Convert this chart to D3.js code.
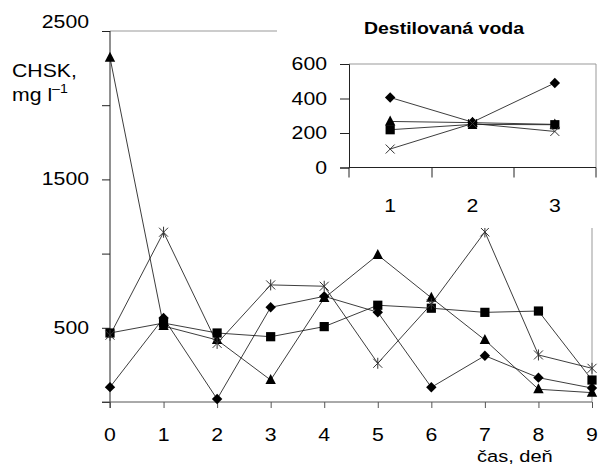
<!DOCTYPE html>
<html lang="sk">
<head>
<meta charset="utf-8">
<title>CHSK</title>
<style>
  body { margin: 0; background: #fff; }
  text { font-family: Arial, "Liberation Sans", sans-serif; fill: #000; }
  .ln { fill: none; stroke: #1a1a1a; stroke-width: 0.85; }
</style>
</head>
<body>
<div id="container"></div>
<script src="https://cdn.jsdelivr.net/npm/d3@7/dist/d3.min.js"></script>
<script>
// ------ data ------
var days = [0, 1, 2, 3, 4, 5, 6, 7, 8, 9];
var diamondVals  = [100, 566, 20, 638, 712, 605, 99, 312, 164, 94];
var squareVals   = [465, 532, 465, 440, 508, 652, 632, 604, 613, 148];
var triangleVals = [2320, 512, 418, 148, 700, 991, 702, 418, 86, 63];
var starVals     = [450, 1144, 395, 789, 780, 261, 660, 1146, 317, 227];
var yTicks = [0, 500, 1000, 1500, 2000, 2500];
var yLabels = ["", "500", "", "1500", "", "2500"];

var insetCats = ["1", "2", "3"];
var insetDiamond  = [406, 263, 490];
var insetTriangle = [267, 260, 250];
var insetSquare   = [219, 250, 248];
var insetCross    = [107, 255, 209];
var insetTicks = [0, 200, 400, 600];
// -----------------------------------------

var width = 600, height = 470;
var SX = 1.18; // the picture's text is stretched sideways

var svg = d3.select("#container").append("svg")
    .attr("width", width).attr("height", height);

function label(g, x, y, txt, anchor, size, bold) {
  return g.append("text")
    .attr("transform", "translate(" + x + "," + y + ") scale(" + SX + ",1)")
    .attr("text-anchor", anchor || "middle")
    .style("font-size", (size || 18) + "px")
    .style("font-weight", bold ? "bold" : "normal")
    .text(txt);
}

function marker(g, type, x, y) {
  var s = 5.2;
  if (type === "diamond") {
    g.append("path").attr("d", "M" + x + "," + (y - s) + "L" + (x + s) + "," + y + "L" + x + "," + (y + s) + "L" + (x - s) + "," + y + "Z")
      .attr("fill", "#000");
  } else if (type === "square") {
    g.append("rect").attr("x", x - 4.6).attr("y", y - 4.6).attr("width", 9.2).attr("height", 9.2).attr("fill", "#000");
  } else if (type === "triangle") {
    g.append("path").attr("d", "M" + x + "," + (y - 6) + "L" + (x + 5.2) + "," + (y + 4) + "L" + (x - 5.2) + "," + (y + 4) + "Z")
      .attr("fill", "#000");
  } else {
    var d = "M" + (x - 4.5) + "," + (y - 4.5) + "L" + (x + 4.5) + "," + (y + 4.5) +
            "M" + (x + 4.5) + "," + (y - 4.5) + "L" + (x - 4.5) + "," + (y + 4.5);
    if (type === "star") d += "M" + x + "," + (y - 5.5) + "L" + x + "," + (y + 5.5);
    g.append("path").attr("d", d).attr("stroke", "#333").attr("stroke-width", 1).attr("fill", "none");
  }
}

// ---------- main chart ----------
var x = d3.scaleLinear().domain([0, 9]).range([110, 592]);
var y = d3.scaleLinear().domain([0, 2500]).range([402, 31]);

var main = svg.append("g");

// plot frame (grey), the inset covers its top right part
main.append("path")
  .attr("d", "M" + x(0) + "," + y(2500) + "H" + x(9) + "V" + y(0))
  .attr("fill", "none").attr("stroke", "#999").attr("stroke-width", 1);

var yAxis = main.append("g").attr("transform", "translate(" + x(0) + ",0)")
  .call(d3.axisLeft(y).tickValues(yTicks).tickSize(8).tickFormat(""));
yAxis.select(".domain").attr("d", "M0," + y(2500) + "V" + (y(0) + 6));
yAxis.selectAll("line, .domain").attr("stroke", "#222");

var xAxis = main.append("g").attr("transform", "translate(0," + y(0) + ")")
  .call(d3.axisBottom(x).tickValues(days).tickSize(6).tickFormat(""));
xAxis.select(".domain").attr("d", "M" + (x(0) - 8) + ",0H" + x(9));
xAxis.selectAll("line, .domain").attr("stroke", "#555");

yTicks.forEach(function (t, i) {
  if (!yLabels[i]) return;
  var off = t === 2500 ? -3 : 6;
  label(main, 89, y(t) + off, yLabels[i], "end");
});
days.forEach(function (d) { label(main, x(d), 441, String(d)); });

label(main, 12, 77, "CHSK,", "start");
var unit = label(main, 12, 101, "mg l", "start");
unit.append("tspan").attr("dy", -8).style("font-size", "12px").text("\u20131");
label(main, 477, 462, "\u010das, de\u0148", "start", 17);

var series = [
  { type: "diamond", vals: diamondVals },
  { type: "square", vals: squareVals },
  { type: "triangle", vals: triangleVals },
  { type: "star", vals: starVals }
];
var line = d3.line().x(function (d, i) { return x(days[i]); }).y(function (d) { return y(d); });
series.forEach(function (s) {
  main.append("path").attr("class", "ln").attr("d", line(s.vals));
});
series.forEach(function (s) {
  s.vals.forEach(function (v, i) { marker(main, s.type, x(days[i]), y(v)); });
});

// ---------- inset ----------
var inset = svg.append("g");
inset.append("rect").attr("x", 277).attr("y", 0).attr("width", 323).attr("height", 228).attr("fill", "#fff");

var ix = d3.scalePoint().domain(insetCats).range([349, 596]).padding(0.5);
var iy = d3.scaleLinear().domain([0, 600]).range([167.5, 64]);

inset.append("path")
  .attr("d", "M349," + iy(600) + "H596V" + iy(0))
  .attr("fill", "none").attr("stroke", "#999").attr("stroke-width", 1);

var iyAxis = inset.append("g").attr("transform", "translate(349,0)")
  .call(d3.axisLeft(iy).tickValues(insetTicks).tickSize(9).tickFormat(""));
iyAxis.selectAll("line, .domain").attr("stroke", "#222");

var ixAxis = inset.append("g").attr("transform", "translate(0," + iy(0) + ")")
  .call(d3.axisBottom(ix).tickSize(0).tickFormat(""));
ixAxis.select(".domain").attr("d", "M349,0H596");
ixAxis.selectAll("line, .domain").attr("stroke", "#222");
// category boundaries get the tick marks
[349, 432, 514, 596].forEach(function (bx) {
  ixAxis.append("line").attr("x1", bx).attr("x2", bx).attr("y1", 0).attr("y2", 10).attr("stroke", "#222");
});

insetTicks.forEach(function (t) { label(inset, 327, iy(t) + 6, String(t), "end"); });
insetCats.forEach(function (c) { label(inset, ix(c), 212, c); });
label(inset, 444, 34, "Destilovan\u00e1 voda", "middle", 16.5, true);

var iseries = [
  { type: "diamond", vals: insetDiamond },
  { type: "triangle", vals: insetTriangle },
  { type: "square", vals: insetSquare },
  { type: "cross", vals: insetCross }
];
var iline = d3.line().x(function (d, i) { return ix(insetCats[i]); }).y(function (d) { return iy(d); });
iseries.forEach(function (s) {
  inset.append("path").attr("class", "ln").attr("d", iline(s.vals));
});
iseries.forEach(function (s) {
  s.vals.forEach(function (v, i) { marker(inset, s.type, ix(insetCats[i]), iy(v)); });
});
</script>
</body>
</html>
